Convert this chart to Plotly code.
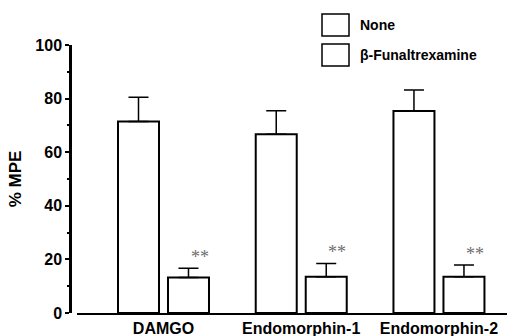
import plotly.graph_objects as go

categories = ["DAMGO", "Endomorphin-1", "Endomorphin-2"]
none_mean = [71.5, 66.7, 75.4]
none_err = [9.0, 8.8, 7.8]
bfna_mean = [13.2, 13.5, 13.5]
bfna_err = [3.5, 5.0, 4.4]
series_names = ["None", "\u03b2-Funaltrexamine"]
y_ticks = [0, 20, 40, 60, 80, 100]

W, H = 507, 336
ML, MR, MT, MB = 70, 0, 45, 23
PW, PH = W - ML - MR, H - MT - MB

def px_x(p):
    return (p - ML) / PW

def px_y(p):
    return (H - MB - p) / PH

FONT = "Liberation Sans, Arial, sans-serif"
x_idx = list(range(len(categories)))

fig = go.Figure()
for mean, err in ((none_mean, none_err), (bfna_mean, bfna_err)):
    fig.add_trace(go.Bar(
        x=x_idx, y=mean,
        marker=dict(color="white", line=dict(color="black", width=2)),
        error_y=dict(type="data", symmetric=False, array=err,
                     arrayminus=[0] * len(err), color="black",
                     thickness=1.5, width=10),
        showlegend=False,
    ))

# significance stars
for i, (m, e) in enumerate(zip(bfna_mean, bfna_err)):
    fig.add_annotation(x=i, y=m + e, xref="x", yref="y", text="**",
                       showarrow=False, xshift=36, yshift=11,
                       yanchor="middle",
                       font=dict(family="Liberation Serif, serif", size=18, color="#6e6e6e"))

# custom legend
legend_rows = [(14, 36), (44, 66)]
for name, (t, b) in zip(series_names, legend_rows):
    fig.add_shape(type="rect", xref="paper", yref="paper",
                  x0=px_x(322), x1=px_x(349), y0=px_y(b), y1=px_y(t),
                  line=dict(color="black", width=1.5), fillcolor="white")
    fig.add_annotation(xref="paper", yref="paper", x=px_x(358), y=px_y((t + b) / 2),
                       text="<b>%s</b>" % name, showarrow=False,
                       xanchor="left", yanchor="middle",
                       font=dict(family=FONT, size=14, color="black"))

fig.update_layout(
    width=W, height=H,
    margin=dict(l=ML, r=MR, t=MT, b=MB, pad=0, autoexpand=False),
    plot_bgcolor="white", paper_bgcolor="white",
    barmode="group", bargap=0.274, bargroupgap=0.18,
    font=dict(family=FONT, color="black"),
    xaxis=dict(
        domain=[px_x(77), 1], range=[-0.628, 2.494],
        tickmode="array", tickvals=x_idx,
        ticktext=["<b>%s</b>" % c for c in categories],
        tickfont=dict(family=FONT, size=16, color="black"),
        showline=True, linecolor="black", linewidth=2,
        ticks="", showgrid=False, zeroline=False,
        ticklabelstandoff=0, automargin=False,
    ),
    yaxis=dict(
        anchor="free", position=0,
        range=[0, 100], tickvals=y_ticks,
        ticktext=["<b>%d</b>" % v for v in y_ticks],
        tickfont=dict(family=FONT, size=16, color="black"),
        showline=True, linecolor="black", linewidth=2.5,
        ticks="outside", ticklen=4, tickwidth=2, tickcolor="black",
        minor=dict(tickvals=[10, 30, 50, 70, 90], ticks="outside",
                   ticklen=2, tickwidth=2, tickcolor="black"),
        showgrid=False, zeroline=False, automargin=False,
        title=dict(text="<b>% MPE</b>", font=dict(family=FONT, size=17, color="black"),
                   standoff=8),
    ),
)

fig.write_html("out.html")
